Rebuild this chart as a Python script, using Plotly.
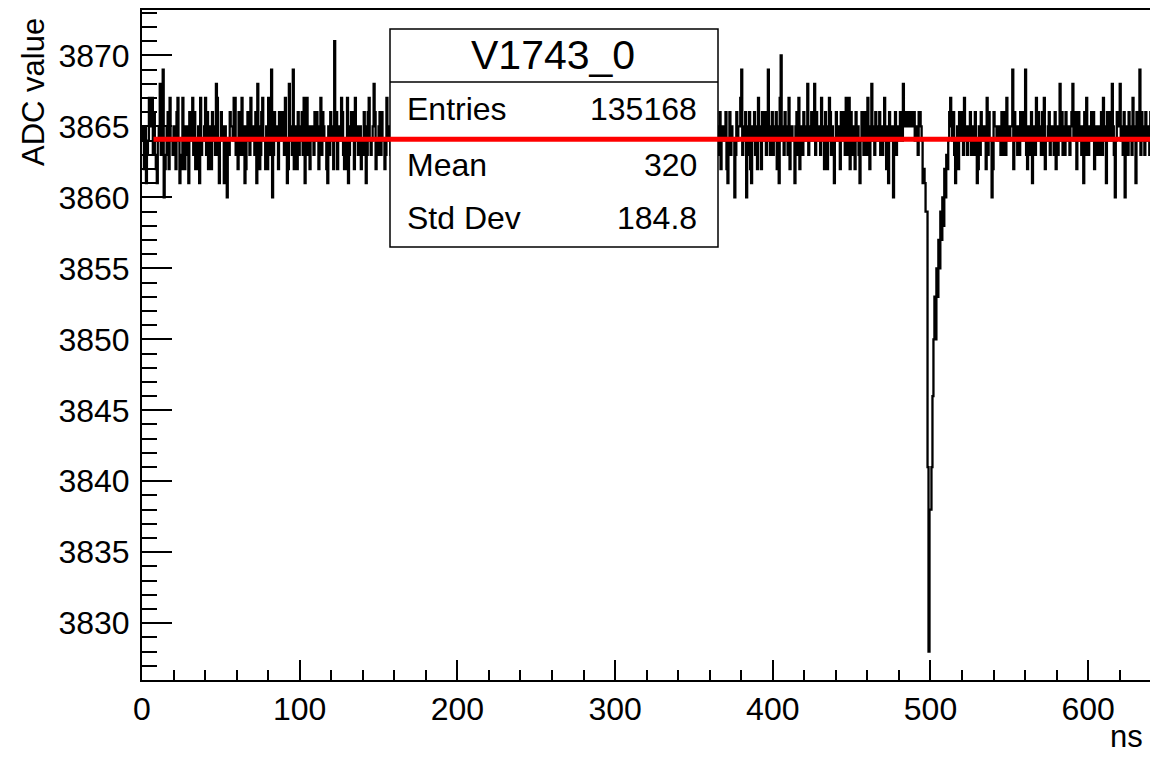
import plotly.graph_objects as go

# ---------------- data ----------------
# ADC samples, 1024 bins of 0.625 ns over 0-640 ns.
# Noise encoded as hex digits: value = 3860 + digit
noise_pre_groups = [
    "5425134765", "7363214583", "6902356274", "4354267413", "2742553164",
    "5736224517", "3445736253", "2645387314", "6541520436", "5547734263",
    "4735125643", "7445361852", "3674425274", "3903645526", "4465374128",
    "4539245263", "5463714735", "2455364652", "4736544215", "36452b4625",
    "4476324271", "3564627453", "5524365136", "7434586243", "5636442375",
    "4536453446", "5347354625", "3645536443", "6453742556", "4365345436",
    "5544637253", "4663454537", "3546254465", "5437346534", "4625537445",
    "6344564235", "4573456354", "3465443676", "5354265345", "4436547354",
    "6545334625", "3746453554", "4355637243", "5634456345", "3457345264",
    "6435536445", "4564273546", "3645456335", "5373645426", "4546356437",
    "3564425645", "5436574354", "4635346545", "3456265374", "5645437346",
    "4354665243", "6437354556", "3546445637", "4365536245",
    "5462146354", "4036455793", "5460356215", "4635274526", "4563594356",
    "35462517a4", "5364537245", "4415637254", "3645483546", "5483645537",
    "4526524763", "5314645526", "4563753726", "3542645314", "6436537425",
    "8453645463", "5347425164", "4504635546", "5486556565", "6556455366",
    "54",
]
pulse_values = [3861, 3862, 3861, 3859, 3859, 3841, 3828, 3838, 3838, 3841,
                3846, 3850, 3853, 3850, 3855, 3853, 3857, 3855, 3859, 3857,
                3860, 3858, 3862, 3860, 3863, 3862, 3864, 3866]
noise_post_groups = [
    "7546314526", "4563745354", "6355364125", "3645542736", "4402655454",
    "5365363745", "4559264535", "3654649325", "5361453746", "4536372445",
    "6355436253", "5846353645", "4356845625", "6453516374", "3546462453",
    "5536374516", "4654853046", "5684536045", "3645374516", "4593645364",
    "5436",
]
baseline_level = 3864.1
fit_start_ns = 7.3
bin_width_ns = 0.625

stats_title = "V1743_0"
stats_labels = ["Entries", "Mean", "Std Dev"]
stats_values = ["135168", "320", "184.8"]

y_tickvals = [3830, 3835, 3840, 3845, 3850, 3855, 3860, 3865, 3870]
x_tickvals = [0, 100, 200, 300, 400, 500, 600]

# ---------------- build series ----------------
pre = [3860 + int(c, 16) for c in "".join(noise_pre_groups)]
post = [3860 + int(c, 16) for c in "".join(noise_post_groups)]
adc = pre + pulse_values + post
centers = [(i + 0.5) * bin_width_ns for i in range(len(adc))]

FONT = "Liberation Sans, Arial, Helvetica, sans-serif"

fig = go.Figure()
fig.add_trace(go.Scatter(
    x=centers, y=adc, mode="lines",
    line=dict(color="black", width=2.3, shape="hvh"),
    hoverinfo="skip", showlegend=False,
))

W, H = 1150, 758
L, R, T, B = 142, 0, 10, 78
pw, ph = W - L - R, H - T - B


def px_x(x):
    return (x - L) / pw


def px_y(y):
    return (H - B - y) / ph


# stats box
bx0, bx1, by0, by1 = 390, 718, 29, 247
fig.add_shape(type="rect", xref="paper", yref="paper",
              x0=px_x(bx0), x1=px_x(bx1), y0=px_y(by1), y1=px_y(by0),
              fillcolor="white", line=dict(color="black", width=1.5), layer="above")
fig.add_shape(type="line", xref="paper", yref="paper",
              x0=px_x(bx0), x1=px_x(bx1), y0=px_y(82), y1=px_y(82),
              line=dict(color="black", width=1.5), layer="above")
# fit line (red) over box
fig.add_shape(type="line", xref="x", yref="y",
              x0=fit_start_ns, x1=640, y0=baseline_level, y1=baseline_level,
              line=dict(color="#ff0000", width=5), layer="above")

fig.add_annotation(xref="paper", yref="paper", x=px_x(552.5), y=px_y(55),
                   text=stats_title, showarrow=False, xanchor="center", yanchor="middle",
                   font=dict(family=FONT, size=41, color="black"))
row_y = [108.5, 165, 218]
for lab, val, yy in zip(stats_labels, stats_values, row_y):
    fig.add_annotation(xref="paper", yref="paper", x=px_x(405), y=px_y(yy),
                       text=lab, showarrow=False, xanchor="left", yanchor="middle",
                       font=dict(family=FONT, size=32, color="black"))
    fig.add_annotation(xref="paper", yref="paper", x=px_x(699), y=px_y(yy),
                       text=val, showarrow=False, xanchor="right", yanchor="middle",
                       font=dict(family=FONT, size=32, color="black"))

# axis titles
fig.add_annotation(xref="paper", yref="paper", x=px_x(1145), y=px_y(736),
                   text="ns", showarrow=False, xanchor="right", yanchor="middle",
                   font=dict(family=FONT, size=31, color="black"))
fig.add_annotation(xref="paper", yref="paper", x=px_x(33), y=px_y(92),
                   text="ADC value", showarrow=False, textangle=-90,
                   xanchor="center", yanchor="middle",
                   font=dict(family=FONT, size=31, color="black"))

fig.update_layout(
    width=W, height=H,
    margin=dict(l=L, r=R, t=T, b=B, pad=0),
    paper_bgcolor="white", plot_bgcolor="white",
    font=dict(family=FONT, size=31, color="black"),
    showlegend=False,
)
fig.update_xaxes(
    range=[0, 639.2], tickvals=x_tickvals, ticks="inside", ticklen=20, tickwidth=1.5,
    tickcolor="black", showline=True, linecolor="black", linewidth=2, mirror=True,
    showgrid=False, zeroline=False, tickfont=dict(family=FONT, size=32),
    minor=dict(ticks="inside", ticklen=10, tickwidth=1.5, dtick=20, tickcolor="black", showgrid=False),
)
fig.update_yaxes(
    range=[3826.0, 3873.2], tickvals=y_tickvals, ticks="inside", ticklen=30, tickwidth=1.5,
    tickcolor="black", showline=True, linecolor="black", linewidth=2, mirror=False,
    showgrid=False, zeroline=False, tickfont=dict(family=FONT, size=32),
    ticklabelstandoff=4,
    minor=dict(ticks="inside", ticklen=15, tickwidth=1.5, dtick=1, tick0=3826, tickcolor="black", showgrid=False),
)

fig.write_html("out.html")
